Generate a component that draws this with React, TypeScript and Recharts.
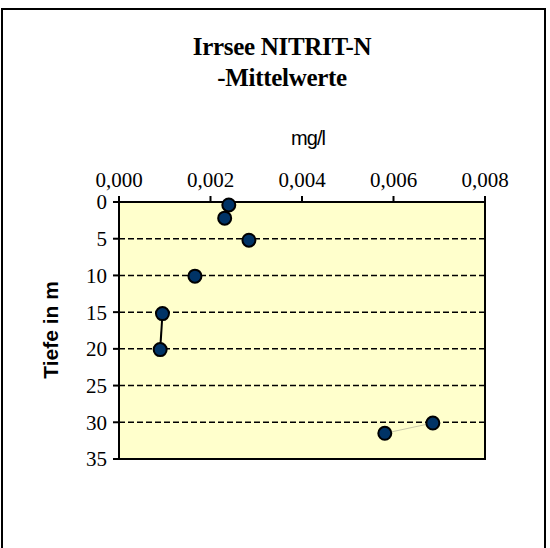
import React from "react";
import {
  ScatterChart,
  Scatter,
  XAxis,
  YAxis,
  CartesianGrid,
  ReferenceArea,
} from "recharts";

// Tiefe (m) und NITRIT-N (mg/l), Mittelwerte
const upperDepth = [0.4, 2.2, 5.2, 10.1];
const upperNitrit = [0.0024, 0.00231, 0.00284, 0.00166];
const midDepth = [15.2, 20.1];
const midNitrit = [0.00095, 0.0009];
const deepDepth = [30.1, 31.5];
const deepNitrit = [0.00686, 0.00581];

const xTicks = [0, 0.002, 0.004, 0.006, 0.008];
const yTicks = [0, 5, 10, 15, 20, 25, 30, 35];

const toPoints = (depths: number[], values: number[]) =>
  depths.map((d, i) => ({ depth: d, value: values[i] }));

const upperData = toPoints(upperDepth, upperNitrit);
const midData = toPoints(midDepth, midNitrit);
const deepData = toPoints(deepDepth, deepNitrit);

const Dot = (props: any) => {
  const { cx, cy } = props;
  if (cx == null || cy == null) return null;
  return <circle cx={cx} cy={cy} r={6.5} fill="#003366" stroke="#000" strokeWidth={2} />;
};

const serif = "'Liberation Serif', 'Times New Roman', serif";
const sans = "'Liberation Sans', Arial, sans-serif";
const tickStyle = { fontFamily: serif, fontSize: 21, fill: "#000" };

const App: React.FC = () => {
  return (
    <div style={{ position: "absolute", left: 0, top: 0, width: 550, height: 548, overflow: "hidden", background: "#fff" }}>
      <div
        style={{
          position: "absolute",
          left: 1,
          top: 8,
          width: 545,
          height: 600,
          border: "2px solid #000",
          boxSizing: "border-box",
        }}
      />
      <div
        style={{
          position: "absolute",
          left: 132,
          top: 31,
          width: 300,
          textAlign: "center",
          fontFamily: serif,
          fontWeight: "bold",
          fontSize: 25,
          lineHeight: "31px",
          letterSpacing: -0.3,
        }}
      >
        <div>Irrsee NITRIT-N</div>
        <div>-Mittelwerte</div>
      </div>
      <div
        style={{
          position: "absolute",
          left: 258,
          top: 127,
          width: 100,
          textAlign: "center",
          fontFamily: sans,
          fontSize: 20,
          letterSpacing: -1,
        }}
      >
        mg/l
      </div>
      <div
        style={{
          position: "absolute",
          left: 51,
          top: 330,
          transform: "translate(-50%, -50%) rotate(-90deg)",
          whiteSpace: "nowrap",
          fontFamily: sans,
          fontWeight: "bold",
          fontSize: 21,
        }}
      >
        Tiefe in m
      </div>
      <div style={{ position: "absolute", left: 0, top: 0 }}>
        <ScatterChart width={550} height={548} margin={{ top: 172, right: 65, bottom: 89, left: 19 }}>
          <CartesianGrid
            vertical={false}
            fill="#FFFFCC"
            stroke="#000"
            strokeWidth={1.5}
            strokeDasharray="6 3"
          />
          <XAxis
            type="number"
            dataKey="value"
            orientation="top"
            height={30}
            domain={[0, 0.008]}
            ticks={xTicks}
            tickFormatter={(v: number) => v.toFixed(3).replace(".", ",")}
            tick={tickStyle}
            tickSize={6}
            tickMargin={9}
            axisLine={{ stroke: "#000", strokeWidth: 2 }}
            tickLine={{ stroke: "#000", strokeWidth: 2 }}
          />
          <YAxis
            type="number"
            dataKey="depth"
            reversed
            width={100}
            domain={[0, 35]}
            ticks={yTicks}
            tick={tickStyle}
            tickSize={6}
            tickMargin={6}
            axisLine={{ stroke: "#000", strokeWidth: 2 }}
            tickLine={{ stroke: "#000", strokeWidth: 2 }}
          />
          <ReferenceArea
            x1={0}
            x2={0.008}
            y1={0}
            y2={35}
            fill="none"
            fillOpacity={0}
            stroke="#000"
            strokeWidth={2}
          />
          <Scatter data={upperData} shape={<Dot />} isAnimationActive={false} />
          <Scatter
            data={midData}
            line={{ stroke: "#000", strokeWidth: 2 }}
            shape={<Dot />}
            isAnimationActive={false}
          />
          <Scatter
            data={deepData}
            line={{ stroke: "#c8c8a8", strokeWidth: 1 }}
            shape={<Dot />}
            isAnimationActive={false}
          />
        </ScatterChart>
      </div>
    </div>
  );
};

export default App;
